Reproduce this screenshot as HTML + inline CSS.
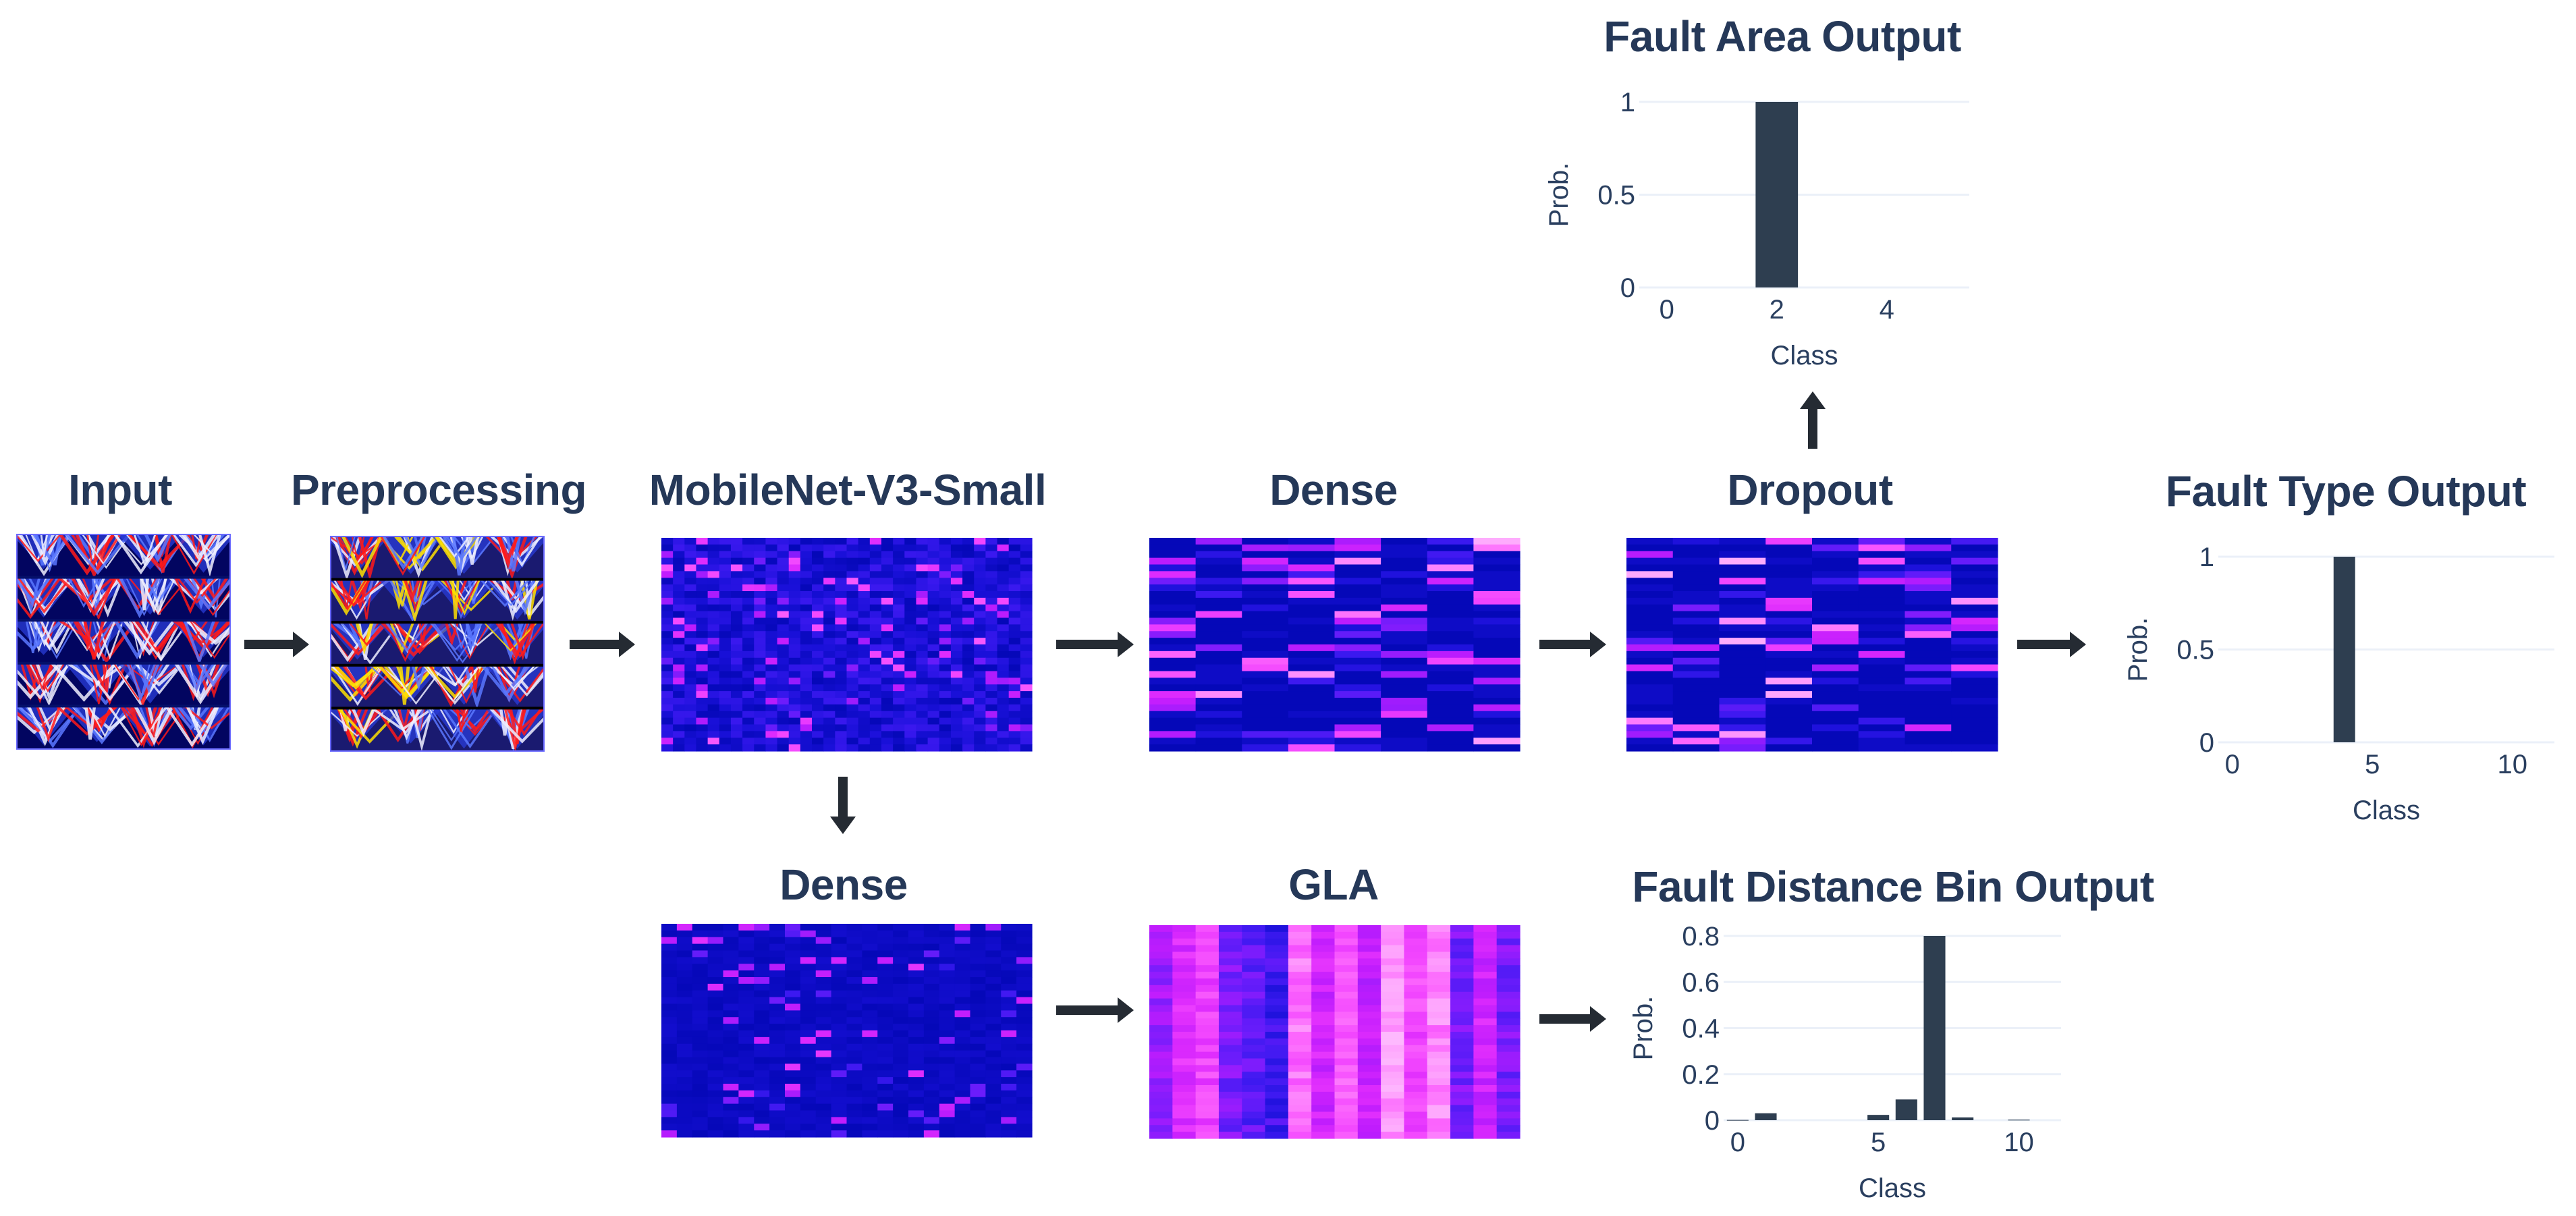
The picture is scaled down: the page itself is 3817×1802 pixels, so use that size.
<!DOCTYPE html>
<html><head><meta charset="utf-8"><style>
html,body{margin:0;padding:0;background:#fff;}
svg{display:block;}
.ttl{font-family:"Liberation Sans",sans-serif;font-weight:bold;font-size:64px;fill:#253858;letter-spacing:-0.5px;}
.tick{font-family:"Liberation Sans",sans-serif;font-size:40px;fill:#2a3f5f;}
</style></head><body>
<svg id="root" width="3817" height="1802" viewBox="0 0 3817 1802" xmlns="http://www.w3.org/2000/svg">
<defs id="defs"></defs>
<g id="titles">
<text class="ttl" x="178" y="748" text-anchor="middle">Input</text>
<text class="ttl" x="650" y="748" text-anchor="middle">Preprocessing</text>
<text class="ttl" x="1256" y="748" text-anchor="middle">MobileNet-V3-Small</text>
<text class="ttl" x="1976" y="748" text-anchor="middle">Dense</text>
<text class="ttl" x="2682" y="748" text-anchor="middle">Dropout</text>
<text class="ttl" x="3476" y="750" text-anchor="middle">Fault Type Output</text>
<text class="ttl" x="2641" y="76" text-anchor="middle">Fault Area Output</text>
<text class="ttl" x="1250" y="1333" text-anchor="middle">Dense</text>
<text class="ttl" x="1976" y="1333" text-anchor="middle">GLA</text>
<text class="ttl" x="2805" y="1336" text-anchor="middle">Fault Distance Bin Output</text>
</g>
<g id="imgs"></g>
<g id="arrows"></g>
<g id="charts"></g>
</svg>
<script>
// ---- chart data ----
const areaClasses = [0,1,2,3,4,5];
const areaValues = [0,0,1,0,0,0];
const areaXTicks = [0,2,4];
const areaYTicks = [0,0.5,1];
const areaYTickLabels = ["0","0.5","1"];

const typeClasses = [0,1,2,3,4,5,6,7,8,9,10,11];
const typeValues = [0,0,0,0,1,0,0,0,0,0,0,0];
const typeXTicks = [0,5,10];
const typeYTicks = [0,0.5,1];
const typeYTickLabels = ["0","0.5","1"];

const distClasses = [0,1,2,3,4,5,6,7,8,9,10,11];
const distValues = [0.001,0.03,0,0,0,0.023,0.09,0.80,0.012,0,0.002,0];
const distXTicks = [0,5,10];
const distYTicks = [0,0.2,0.4,0.6,0.8];
const distYTickLabels = ["0","0.2","0.4","0.6","0.8"];

const NS = "http://www.w3.org/2000/svg";
function mk(tag, attrs, parent){const e=document.createElementNS(NS,tag);for(const k in attrs)e.setAttribute(k,attrs[k]);if(parent)parent.appendChild(e);return e;}

// ---- bar charts ----
function barChart(g, cfg, classes, values, xTicks, yTicks, yLabels, nm){
  const xs = c => cfg.x0 + (c - cfg.xmin) / (cfg.xmax - cfg.xmin) * (cfg.x1 - cfg.x0);
  const ys = v => cfg.y0 - (v - cfg.vmin) / (cfg.vmax - cfg.vmin) * (cfg.y0 - cfg.y1);
  const grp = mk('g', {}, g);
  
  
  yTicks.forEach((t,i)=>{
    const gl = mk('line',{x1:cfg.x0,x2:cfg.x1,y1:ys(t),y2:ys(t),stroke:'#ebf0f8','stroke-width':3},grp);
    
    
    const tl = mk('text',{x:cfg.x0-6,y:ys(t)+14,'text-anchor':'end',class:'tick'},grp);
    tl.textContent = yLabels[i];
    
    
  });
  const bw = (cfg.x1 - cfg.x0) / (cfg.xmax - cfg.xmin) * 0.77;
  classes.forEach((c,i)=>{
    const v = values[i];
    if (v <= 0) return;
    const r = mk('rect',{x:xs(c)-bw/2,y:ys(v),width:bw,height:Math.max(1,ys(0)-ys(v)),fill:'#2e3e50'},grp);
    
    
  });
  xTicks.forEach(t=>{
    const tl = mk('text',{x:xs(t),y:ys(0)+46,'text-anchor':'middle',class:'tick'},grp);
    tl.textContent = String(t);
    
    
  });
  const xt = mk('text',{x:(cfg.x0+cfg.x1)/2+cfg.xtOff,y:ys(0)+114,'text-anchor':'middle',class:'tick'},grp);
  xt.textContent = 'Class';
  
  
  const yc = (cfg.y0+cfg.y1)/2;
  const yt = mk('text',{x:cfg.x0-120,y:yc,'text-anchor':'middle',class:'tick',transform:`rotate(-90 ${cfg.x0-120} ${yc})`,dy:14},grp);
  yt.textContent = 'Prob.';
  
  
}
const charts = document.getElementById('charts');
barChart(charts,{x0:2429,x1:2918,xmin:-0.5,xmax:5.5,y0:426,y1:151,vmin:0,vmax:1,xtOff:0},areaClasses,areaValues,areaXTicks,areaYTicks,areaYTickLabels,'fault-area');
barChart(charts,{x0:3287,x1:3785,xmin:-0.5,xmax:11.5,y0:1100,y1:825,vmin:0,vmax:1,xtOff:0},typeClasses,typeValues,typeXTicks,typeYTicks,typeYTickLabels,'fault-type');
barChart(charts,{x0:2554,x1:3054,xmin:-0.5,xmax:11.5,y0:1660,y1:1387,vmin:0,vmax:0.8,xtOff:0},distClasses,distValues,distXTicks,distYTicks,distYTickLabels,'fault-distance');

// ---- arrows ----
const arrows = document.getElementById('arrows');
function hArrow(x0,x1,y,nm){
  const p = mk('polygon',{points:`${x0},${y-7} ${x1-24},${y-7} ${x1-24},${y-19} ${x1},${y} ${x1-24},${y+19} ${x1-24},${y+7} ${x0},${y+7}`,fill:'#252b33'},arrows);
  
  
}
function vArrow(x,y0,y1,nm){
  const d = y1>y0?1:-1;
  const hb = y1 - d*26;
  const p = mk('polygon',{points:`${x-7},${y0} ${x-7},${hb} ${x-19},${hb} ${x},${y1} ${x+19},${hb} ${x+7},${hb} ${x+7},${y0}`,fill:'#252b33'},arrows);
  
  
}
hArrow(362,458,955,'arrow-input-preprocessing');
hArrow(844,941,955,'arrow-preprocessing-mobilenet');
hArrow(1565,1680,955,'arrow-mobilenet-dense');
hArrow(2281,2380,955,'arrow-dense-dropout');
hArrow(2989,3091,955,'arrow-dropout-faulttype');
hArrow(1565,1680,1497,'arrow-dense-gla');
hArrow(2281,2380,1510,'arrow-gla-faultdistance');
vArrow(1249,1151,1236,'arrow-mobilenet-dense-bottom');
vArrow(2686,665,580,'arrow-dropout-faultarea');

// ---- heatmap textures (decorative) ----
const stops = ['#0508b8','#1910d8','#3c19f0','#6b1cfb','#981cfd','#bf1cfd','#dd2bfd','#f246fe','#fc67fd','#fea5fd','#febefe','#fec3fe'];
function hex(c){return [parseInt(c.substr(1,2),16),parseInt(c.substr(3,2),16),parseInt(c.substr(5,2),16)];}
function cmap(v){v=Math.max(0,Math.min(1,v));const f=v*(stops.length-1);const i=Math.min(stops.length-2,Math.floor(f));const t=f-i;const a=hex(stops[i]),b=hex(stops[i+1]);return `rgb(${a.map((x,k)=>Math.round(x+(b[k]-x)*t)).join(',')})`;}
let seed = 12345;
function rnd(){seed|=0;seed=seed+0x6D2B79F5|0;let t=Math.imul(seed^seed>>>15,1|seed);t=t+Math.imul(t^t>>>7,61|t)^t;return ((t^t>>>14)>>>0)/4294967296;}
const imgs = document.getElementById('imgs');
const defs = document.getElementById('defs');
function heat(x,y,w,h,cols,rows,fn,nm){
  const g = mk('g',{},imgs);
  
  
  const cw=w/cols, ch=h/rows;
  for(let r=0;r<rows;r++)for(let c=0;c<cols;c++){
    mk('rect',{x:x+c*cw,y:y+r*ch,width:cw+0.6,height:ch+0.6,fill:cmap(fn(c,r))},g);
  }
}
function sparse(p,scale){return ()=>{const u=rnd();if(u<p)return 0.25+rnd()*scale;return rnd()*0.18;};}
function denseFn(p){return ()=>{const u=rnd();if(u<p){const v=rnd();return 0.1+v*v*0.75;}return rnd()<0.3?0.04:0;};}
heat(980,797,549,316,32,32,sparse(0.1,0.45),'mobilenet-feature-map');
heat(1703,797,549,316,8,32,denseFn(0.38),'dense-feature-map');
heat(2410,797,550,316,8,32,denseFn(0.32),'dropout-feature-map');
heat(980,1369,549,316,24,32,()=>{const u=rnd();if(u<0.1)return 0.15+rnd()*0.45;return rnd()*0.06;},'dense-bottom-feature-map');
const glaBase=[0.38,0.55,0.62,0.3,0.25,0.18,0.72,0.5,0.68,0.48,0.82,0.64,0.76,0.3,0.5,0.3];
heat(1703,1371,549,316,16,32,(c,r)=>glaBase[c]+(rnd()-0.5)*0.16,'gla-feature-map');

// input-like images
let clipId=0;
function specImg(x,y,w,h,bg,sep,nm,pre){
  const g = mk('g',{},imgs);
  
  
  mk('rect',{x:x,y:y,width:w,height:h,fill:bg},g);
  const rows=5, cols=4, bw=w/cols, bh=h/rows;
  for(let r=0;r<rows;r++){
    const cid='clp'+(clipId++);
    const cp=mk('clipPath',{id:cid},defs);
    mk('rect',{x:x,y:y+r*bh,width:w,height:bh},cp);
    const rg=mk('g',{'clip-path':`url(#${cid})`},g);
    for(let c=0;c<cols;c++){
      const bx=x+c*bw, by=y+r*bh;
      const cx=bx+bw*0.5, tipY=by+bh*(0.8+rnd()*0.15);
      // bright upper fan region
      mk('polygon',{points:`${bx-bw*0.1},${by} ${bx+bw*1.1},${by} ${cx},${tipY}`,fill:'#2a3cd8',opacity:0.75},rg);
      const n=10;
      for(let k=0;k<n;k++){
        const sp=bw*(0.05+rnd()*0.55);
        const ox=(rnd()-0.5)*bw*0.5;
        const ty=by+bh*(0.45+rnd()*0.5);
        const u=rnd();
        const col = u<0.35?'#ff1a1a':(pre&&u<0.5?'#ffe000':(u<0.75?'#f0f0ff':'#5a78ff'));
        mk('polyline',{points:`${cx+ox-sp},${by} ${cx+ox},${ty} ${cx+ox+sp},${by}`,fill:'none',stroke:col,'stroke-width':2+rnd()*3,opacity:0.85},rg);
      }
    }
    if(r>0) mk('rect',{x:x,y:y+r*bh-2,width:w,height:4,fill:sep},g);
  }
  mk('rect',{x:x,y:y,width:w,height:h,fill:'none',stroke:'#6a6aff','stroke-width':2},g);
}
specImg(25,792,316,318,'#020560','#05106a','input-image',false);
specImg(490,795,316,318,'#1a1a70','#000000','preprocessed-image',true);
</script>
</body></html>
